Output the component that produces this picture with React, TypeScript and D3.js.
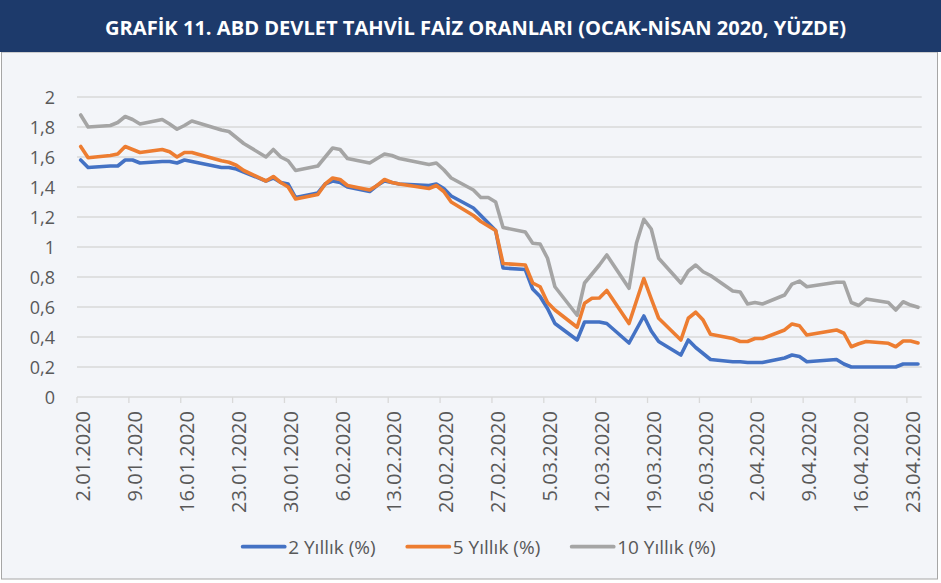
import React from "react";
import * as d3 from "d3";

const TITLE = "GRAFİK 11. ABD DEVLET TAHVİL FAİZ ORANLARI (OCAK-NİSAN 2020, YÜZDE)";

const dates: string[] = [
  "2020-01-02","2020-01-03","2020-01-06","2020-01-07","2020-01-08","2020-01-09","2020-01-10",
  "2020-01-13","2020-01-14","2020-01-15","2020-01-16","2020-01-17","2020-01-21","2020-01-22",
  "2020-01-23","2020-01-24","2020-01-27","2020-01-28","2020-01-29","2020-01-30","2020-01-31",
  "2020-02-03","2020-02-04","2020-02-05","2020-02-06","2020-02-07","2020-02-10","2020-02-11",
  "2020-02-12","2020-02-13","2020-02-14","2020-02-18","2020-02-19","2020-02-20","2020-02-21",
  "2020-02-24","2020-02-25","2020-02-26","2020-02-27","2020-02-28",
  "2020-03-02","2020-03-03","2020-03-04","2020-03-05","2020-03-06","2020-03-09","2020-03-10",
  "2020-03-11","2020-03-12","2020-03-13","2020-03-16","2020-03-17","2020-03-18","2020-03-19",
  "2020-03-20","2020-03-23","2020-03-24","2020-03-25","2020-03-26","2020-03-27","2020-03-30",
  "2020-03-31",
  "2020-04-01","2020-04-02","2020-04-03","2020-04-06","2020-04-07","2020-04-08","2020-04-09",
  "2020-04-13","2020-04-14","2020-04-15","2020-04-16","2020-04-17","2020-04-20","2020-04-21",
  "2020-04-22","2020-04-23","2020-04-24",
];

const y2: number[] = [
  1.58, 1.53, 1.54, 1.54, 1.58, 1.58, 1.56, 1.57, 1.57, 1.56, 1.58, 1.57, 1.53, 1.53, 1.52, 1.50, 1.44, 1.46, 1.43, 1.42, 1.33,
  1.36, 1.42, 1.44, 1.43, 1.40, 1.37, 1.41, 1.44, 1.43, 1.42, 1.41, 1.42, 1.39, 1.34, 1.26, 1.21, 1.16, 1.11, 0.86,
  0.85, 0.72, 0.67, 0.59, 0.49, 0.38, 0.50, 0.50, 0.50, 0.49, 0.36, 0.45, 0.54, 0.44, 0.37, 0.28, 0.38, 0.33, 0.29, 0.25, 0.235, 0.235,
  0.23, 0.23, 0.23, 0.26, 0.28, 0.27, 0.235, 0.25, 0.22, 0.20, 0.20, 0.20, 0.20, 0.20, 0.22, 0.22, 0.22,
];

const y5: number[] = [
  1.67, 1.595, 1.61, 1.62, 1.67, 1.65, 1.63, 1.65, 1.635, 1.60, 1.63, 1.63, 1.575, 1.565, 1.545, 1.51, 1.44, 1.47, 1.43, 1.40, 1.32,
  1.35, 1.42, 1.46, 1.45, 1.41, 1.38, 1.41, 1.45, 1.43, 1.42, 1.39, 1.41, 1.37, 1.30, 1.21, 1.17, 1.14, 1.11, 0.89,
  0.88, 0.76, 0.735, 0.63, 0.58, 0.465, 0.625, 0.658, 0.66, 0.71, 0.49, 0.64, 0.79, 0.655, 0.525, 0.38, 0.525, 0.565, 0.513, 0.418, 0.39, 0.37,
  0.37, 0.39, 0.39, 0.447, 0.487, 0.475, 0.413, 0.447, 0.425, 0.335, 0.355, 0.37, 0.358, 0.335, 0.373, 0.373, 0.36,
];

const y10: number[] = [
  1.88, 1.80, 1.81, 1.83, 1.87, 1.85, 1.82, 1.85, 1.82, 1.785, 1.81, 1.84, 1.78, 1.77, 1.73, 1.69, 1.60, 1.65, 1.60, 1.575, 1.51,
  1.54, 1.60, 1.66, 1.65, 1.59, 1.56, 1.59, 1.62, 1.61, 1.59, 1.55, 1.56, 1.515, 1.46, 1.38, 1.33, 1.33, 1.30, 1.13,
  1.10, 1.025, 1.02, 0.925, 0.735, 0.545, 0.76, 0.82, 0.88, 0.947, 0.725, 1.025, 1.185, 1.12, 0.925, 0.76, 0.84, 0.88, 0.835, 0.81, 0.707, 0.70,
  0.62, 0.63, 0.62, 0.68, 0.753, 0.773, 0.735, 0.765, 0.765, 0.63, 0.61, 0.653, 0.63, 0.58, 0.635, 0.613, 0.598,
];

const seriesNames: string[] = ["2 Yıllık (%)", "5 Yıllık (%)", "10 Yıllık (%)"];
const seriesColors: string[] = ["#4472c4", "#ed7d31", "#a5a5a5"];
const seriesValues: number[][] = [y2, y5, y10];
const yTicks: number[] = [0, 0.2, 0.4, 0.6, 0.8, 1, 1.2, 1.4, 1.6, 1.8, 2];

const W = 941;
const H = 583;
const PL = 77;
const PR = 921.7;
const PT = 97;
const PB = 397;
const BG = "#f3f5f9";
const TXT = "#595959";
const FONT = "'Open Sans', 'DejaVu Sans', sans-serif";

export default function App() {
  const parse = (s: string) => new Date(s + "T12:00:00Z");
  const start = new Date(Date.UTC(2020, 0, 2));
  const end = new Date(Date.UTC(2020, 3, 25));
  const x = d3.scaleUtc().domain([start, end]).range([PL, PR]);
  const y = d3.scaleLinear().domain([0, 2]).range([PB, PT]);
  const pts = dates.map(parse);
  const ticks = d3.utcThursday.range(start, end);
  const fmt = d3.utcFormat("%-d.%m.%Y");
  const yFmt = (v: number) => String(Math.round(v * 10) / 10).replace(".", ",");
  const line = d3
    .line<number>()
    .x((_, i) => x(pts[i]))
    .y((v) => y(v));
  const halfDay = (x(new Date(Date.UTC(2020, 0, 3))) - x(start)) / 2;

  const legendX = [242.7, 407.3, 571.7];

  return (
    <svg
      width={W}
      height={H}
      style={{ position: "absolute", left: 0, top: 0, display: "block" }}
      fontFamily={FONT}
    >
      <rect x={0} y={0} width={W} height={H} fill="#ffffff" />
      <rect x={1.5} y={52} width={936} height={527} fill={BG} stroke="#a6a6a6" strokeWidth={1} />
      <rect x={0} y={0} width={W} height={52} fill="#1d3a6b" />
      <text
        x={475.5}
        y={27}
        textAnchor="middle"
        dominantBaseline="central"
        fill="#ffffff"
        fontWeight="bold"
        fontSize={19.5}
        textLength={741}
        lengthAdjust="spacingAndGlyphs"
      >
        {TITLE}
      </text>

      {yTicks.map((t) => (
        <g key={t}>
          {t > 0 && (
            <line x1={PL} x2={PR} y1={y(t)} y2={y(t)} stroke="#d9d9d9" strokeWidth={1.3} />
          )}
          <text
            x={55}
            y={y(t)}
            textAnchor="end"
            dominantBaseline="central"
            fontSize={18}
            fill={TXT}
          >
            {yFmt(t)}
          </text>
        </g>
      ))}

      <line x1={PL} x2={PR} y1={PB} y2={PB} stroke="#d9d9d9" strokeWidth={1.3} />
      {ticks.map((t) => (
        <g key={t.toISOString()}>
          <line x1={x(t)} x2={x(t)} y1={PB} y2={PB + 6} stroke="#d9d9d9" strokeWidth={1.3} />
          <text
            transform={`translate(${x(t) + halfDay + 9.5},${411}) rotate(-90)`}
            textAnchor="end"
            fontSize={20}
            fill={TXT}
          >
            {fmt(t)}
          </text>
        </g>
      ))}

      {seriesValues.map((vals, si) => (
        <path
          key={seriesNames[si]}
          d={line(vals) || ""}
          fill="none"
          stroke={seriesColors[si]}
          strokeWidth={3.6}
          strokeLinejoin="round"
          strokeLinecap="round"
        />
      ))}

      {seriesNames.map((n, si) => (
        <g key={n}>
          <line
            x1={legendX[si]}
            x2={legendX[si] + 42}
            y1={546.7}
            y2={546.7}
            stroke={seriesColors[si]}
            strokeWidth={3.8}
            strokeLinecap="round"
          />
          <text
            x={legendX[si] + 45.5}
            y={546.7}
            dominantBaseline="central"
            fontSize={19}
            fill={TXT}
          >
            {n}
          </text>
        </g>
      ))}
    </svg>
  );
}
